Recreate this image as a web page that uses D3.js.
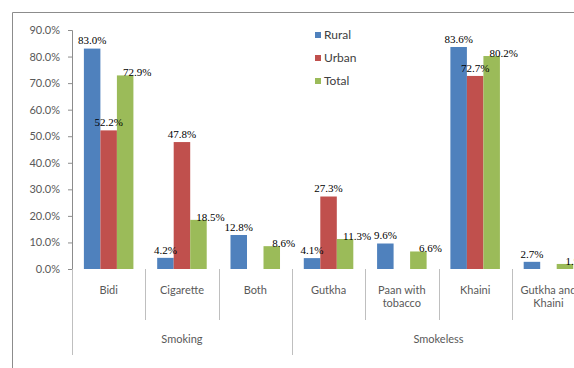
<!DOCTYPE html>
<html>
<head>
<meta charset="utf-8">
<script src="https://cdn.jsdelivr.net/npm/d3@7"></script>
<style>
  body { margin: 0; background: #fff; }
  svg { display: block; }
  .tick text { font-family: Lato, "Open Sans", sans-serif; font-size: 11px; fill: #595959; }
  .dlabel { font-family: "Liberation Serif", "Times New Roman", serif; font-size: 11px; fill: #000; }
</style>
</head>
<body>
<div id="chart"></div>
<script>
    // values (percent)
    var categories = ["Bidi", "Cigarette", "Both", "Gutkha", "Paan with tobacco", "Khaini", "Gutkha and Khaini"];
    var groups = [
        { name: "Smoking", from: 0, to: 3 },
        { name: "Smokeless", from: 3, to: 7 }
    ];
    var series = ["Rural", "Urban", "Total"];
    var rural = [83.0, 4.2, 12.8, 4.1, 9.6, 83.6, 2.7];
    var urban = [52.2, 47.8, null, 27.3, null, 72.7, null];
    var total = [72.9, 18.5, 8.6, 11.3, 6.6, 80.2, 1.9];
    var yTicks = [0, 10, 20, 30, 40, 50, 60, 70, 80, 90];

    var colors = { Rural: "#4f81bd", Urban: "#c0504d", Total: "#9bbb59" };
    var values = { Rural: rural, Urban: urban, Total: total };

    var W = 574, H = 368;
    var margin = { top: 30, left: 72, bottom: 99 };
    var catW = 73.3;

    var svg = d3.select("#chart").append("svg")
        .attr("width", W)
        .attr("height", H);

    // outer frame (chart area border, cut off on the right)
    svg.append("path")
        .attr("d", "M12.5," + H + "V12.5H" + W)
        .attr("fill", "none")
        .attr("stroke", "#8c8c8c")
        .attr("stroke-width", 1);

    var y = d3.scaleLinear()
        .domain([0, 90])
        .range([H - margin.bottom, margin.top]);

    var x0 = d3.scaleBand()
        .domain(categories)
        .range([margin.left, margin.left + catW * categories.length])
        .paddingInner(0)
        .paddingOuter(0);

    var x1 = d3.scaleBand()
        .domain(series)
        .range([0, x0.bandwidth()])
        .paddingInner(0)
        .paddingOuter(0.72);

    // y axis
    var yAxis = svg.append("g")
        .attr("transform", "translate(" + margin.left + ",0)")
        .call(d3.axisLeft(y).tickValues(yTicks).tickSize(4).tickPadding(8)
            .tickFormat(function(d) { return d.toFixed(1) + "%"; }));
    yAxis.select(".domain").attr("stroke", "#8c8c8c");
    yAxis.selectAll(".tick line").attr("stroke", "#8c8c8c");

    // bars
    var rows = [];
    categories.forEach(function(c, i) {
        series.forEach(function(s) {
            if (values[s][i] != null) rows.push({ cat: c, s: s, v: values[s][i] });
        });
    });

    svg.append("g").selectAll("rect")
        .data(rows)
        .enter().append("rect")
        .attr("x", function(d) { return x0(d.cat) + x1(d.s); })
        .attr("y", function(d) { return y(d.v); })
        .attr("width", x1.bandwidth())
        .attr("height", function(d) { return y(0) - y(d.v); })
        .attr("fill", function(d) { return colors[d.s]; });

    // data labels (green ones sit a little to the right, like the original)
    svg.append("g").selectAll("text")
        .data(rows)
        .enter().append("text")
        .attr("class", "dlabel")
        .attr("x", function(d) {
            var cx = x0(d.cat) + x1(d.s) + x1.bandwidth() / 2;
            return d.s == "Total" ? cx + 12 : cx;
        })
        .attr("y", function(d) { return y(d.v) - (d.s == "Total" ? 3 : 8); })
        .attr("dy", "0.35em")
        .attr("text-anchor", "middle")
        .text(function(d) { return d.v.toFixed(1) + "%"; });

    // category separators below the axis
    var base = y(0);
    var sep = svg.append("g").attr("stroke", "#bfbfbf").attr("stroke-width", 1);
    categories.forEach(function(c, i) {
        var xx = Math.round(x0(c)) + 0.5;
        var isGroupEdge = groups.some(function(g) { return g.from == i; });
        sep.append("line")
            .attr("x1", xx).attr("x2", xx)
            .attr("y1", base).attr("y2", isGroupEdge ? base + 86 : base + 51);
    });

    // category labels
    var catLabels = svg.append("g")
        .style("font-family", "Lato, 'Open Sans', sans-serif")
        .style("font-size", "11px")
        .style("fill", "#595959")
        .attr("text-anchor", "middle");
    categories.forEach(function(c) {
        var words = c.split(" ");
        var lines = c.length > 10 ? [words.slice(0, words.length - 1).join(" "), words[words.length - 1]] : [c];
        var t = catLabels.append("text")
            .attr("x", x0(c) + x0.bandwidth() / 2)
            .attr("y", base + 25);
        lines.forEach(function(l, k) {
            t.append("tspan")
                .attr("x", x0(c) + x0.bandwidth() / 2)
                .attr("dy", k == 0 ? 0 : 13)
                .text(l);
        });
    });

    // group labels
    svg.append("g").selectAll("text")
        .data(groups)
        .enter().append("text")
        .attr("x", function(g) { return (x0(categories[g.from]) + x0(categories[g.to - 1]) + x0.bandwidth()) / 2; })
        .attr("y", base + 74)
        .attr("text-anchor", "middle")
        .style("font-family", "Lato, 'Open Sans', sans-serif")
        .style("font-size", "11px")
        .style("fill", "#595959")
        .text(function(g) { return g.name; });

    // legend
    var legend = svg.append("g").attr("transform", "translate(315,35)");
    series.forEach(function(s, i) {
        var row = legend.append("g").attr("transform", "translate(0," + (i * 23) + ")");
        row.append("rect")
            .attr("x", 0).attr("y", -3)
            .attr("width", 6).attr("height", 6)
            .attr("fill", colors[s]);
        row.append("text")
            .attr("x", 9)
            .attr("dy", "0.35em")
            .style("font-family", "Lato, 'Open Sans', sans-serif")
            .style("font-size", "12px")
            .style("fill", "#404040")
            .text(s);
    });
</script>
</body>
</html>
